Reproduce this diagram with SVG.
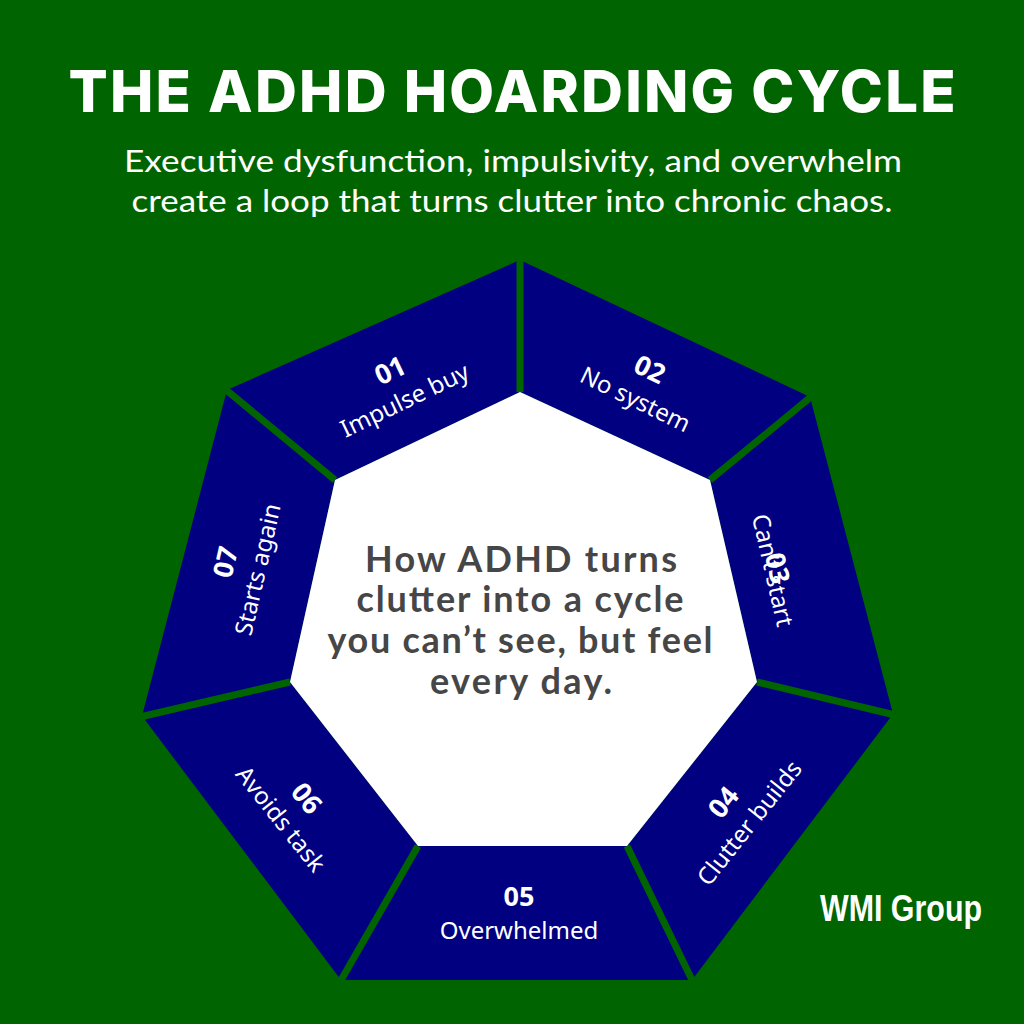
<svg xmlns="http://www.w3.org/2000/svg" width="1024" height="1024" viewBox="0 0 1024 1024">
<style>
.title{font-family:"Inter","Liberation Sans",sans-serif;font-weight:800;font-size:58px;fill:#fff;text-anchor:middle}
.sub{font-family:"Lato","Liberation Sans",sans-serif;font-size:31px;fill:#fff;text-anchor:middle}
.seg{fill:#000080}
.num{font-family:"Noto Sans","Liberation Sans",sans-serif;font-weight:700;font-size:27px;fill:#fff;text-anchor:middle}
.lbl{font-family:"Noto Sans","Liberation Sans",sans-serif;font-size:24px;fill:#fff;text-anchor:middle}
.div{stroke:#006400;stroke-width:7;fill:none}
.ctr{font-family:"Lato","Liberation Sans",sans-serif;font-weight:700;font-size:36px;fill:#464646;text-anchor:middle}
.brand{font-family:"Liberation Sans",sans-serif;font-weight:700;font-size:36px;fill:#fff}
</style>
<rect width="1024" height="1024" fill="#006400"/>
<text class="title" x="512" y="112" textLength="887" lengthAdjust="spacing">THE ADHD HOARDING CYCLE</text>
<text class="sub" x="513" y="172" textLength="778" lengthAdjust="spacingAndGlyphs">Executive dysfunction, impulsivity, and overwhelm</text>
<text class="sub" x="512" y="212" textLength="761" lengthAdjust="spacingAndGlyphs">create a loop that turns clutter into chronic chaos.</text>

<g id="seg01">
<polygon class="seg" points="227,390 520,260 520,392 335,480"/>
<g transform="translate(390,370) rotate(-25.71)"><text class="num" y="10">01</text><text class="lbl" y="42">Impulse buy</text></g>
</g>
<g id="seg02">
<polygon class="seg" points="520,260 810,397 710,480 520,392"/>
<g transform="translate(650,369) rotate(25.71)"><text class="num" y="10">02</text><text class="lbl" y="42">No system</text></g>
</g>
<g id="seg03">
<polygon class="seg" points="810,397 893,714 757,682 710,480"/>
<g transform="translate(778,568) rotate(77.14)"><text class="lbl" x="1" y="14">Can’t start</text><text class="num" y="10">03</text></g>
</g>
<g id="seg04">
<polygon class="seg" points="893,714 692,980 627,846 757,682"/>
<g transform="translate(723,802) rotate(-51.43)"><text class="num" y="10">04</text><text class="lbl" y="42">Clutter builds</text></g>
</g>
<g id="seg05">
<polygon class="seg" points="692,980 341,980 418,846 627,846"/>
<g transform="translate(519,896)"><text class="num" y="10">05</text><text class="lbl" y="43">Overwhelmed</text></g>
</g>
<g id="seg06">
<polygon class="seg" points="341,980 142,716 290,682 418,846"/>
<g transform="translate(307,798) rotate(51.43)"><text class="num" y="10">06</text><text class="lbl" y="42">Avoids task</text></g>
</g>
<g id="seg07">
<polygon class="seg" points="142,716 227,390 335,480 290,682"/>
<g transform="translate(225,562) rotate(-77.14)"><text class="num" y="10">07</text><text class="lbl" y="42">Starts again</text></g>
</g>

<g id="connectors">
<line class="div" x1="520" y1="392" x2="520" y2="258"/>
<line class="div" x1="710" y1="480" x2="812" y2="396"/>
<line class="div" x1="757" y1="682" x2="895" y2="715"/>
<line class="div" x1="627" y1="846" x2="693" y2="982"/>
<line class="div" x1="418" y1="846" x2="340" y2="982"/>
<line class="div" x1="290" y1="682" x2="140" y2="717"/>
<line class="div" x1="335" y1="480" x2="225" y2="389"/>
</g>

<g id="center">
<polygon points="520,392 710,480 757,682 627,846 418,846 290,682 335,480" fill="#fff"/>
<text class="ctr" x="521" y="572" textLength="312" lengthAdjust="spacing">How ADHD turns</text>
<text class="ctr" x="520" y="612" textLength="327" lengthAdjust="spacing">clutter into a cycle</text>
<text class="ctr" x="520" y="653" textLength="385" lengthAdjust="spacing">you can’t see, but feel</text>
<text class="ctr" x="521" y="694" textLength="182" lengthAdjust="spacing">every day.</text>
</g>

<text class="brand" x="820" y="921" textLength="162" lengthAdjust="spacingAndGlyphs">WMI Group</text>
</svg>
